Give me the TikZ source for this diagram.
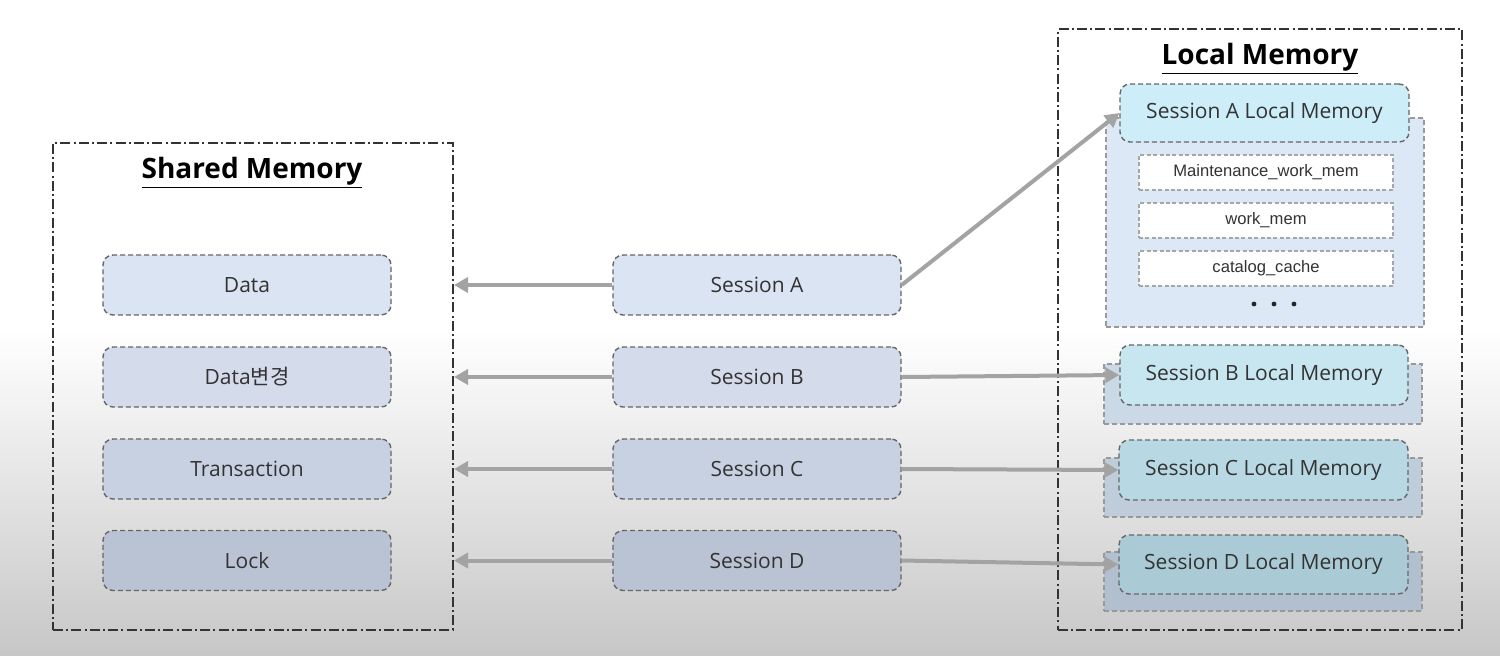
\documentclass[tikz,border=0pt]{standalone}
\usepackage{fontspec}
\setmainfont{Open Sans}
\newfontfamily\krfont{Noto Sans CJK KR}
\newfontfamily\arialfont{Liberation Sans}
\usetikzlibrary{arrows.meta}
\definecolor{txt}{HTML}{333333}
\definecolor{arrgray}{HTML}{A3A3A3}
\tikzset{
  outerbox/.style={draw=black!80, line width=1pt, dash pattern=on 5pt off 1.6pt on 1pt off 1.6pt, inner sep=0pt},
  membox/.style={draw=black!60, line width=0.7pt, dash pattern=on 2.5pt off 1.5pt, rounded corners=5pt, minimum width=144pt, minimum height=30pt, text=txt, font=\fontsize{10.5}{12}\selectfont, inner sep=0pt},
  backbox/.style={draw=black!40, line width=0.7pt, dash pattern=on 2.5pt off 1.5pt, minimum width=159pt, inner sep=0pt},
  itembox/.style={draw=black!35, fill=white, line width=0.6pt, dash pattern=on 2pt off 1.2pt, minimum width=127pt, minimum height=17.5pt, text=txt, font=\arialfont\fontsize{8.3}{10}\selectfont, inner sep=0pt},
  titletext/.style={font=\bfseries\fontsize{14}{16}\selectfont, text=black},
  arr/.style={draw=arrgray, line width=2pt, -{Triangle[length=7pt,width=7.5pt]}},
}
\begin{document}
\begin{tikzpicture}[x=0.5pt,y=-0.5pt]
\useasboundingbox (0,0) rectangle (1500,655);
% background
\fill[white] (0,0) rectangle (1500,330);
\shade[top color=white, bottom color=black!22] (0,330) rectangle (1500,655);

% shared memory
\node[outerbox, minimum width=200pt, minimum height=243.5pt] (shared) at (253,386.5) {};
\node[titletext] (sharedtitle) at (252,173) {\underline{Shared Memory}};
\node[membox, fill={rgb,255:red,219;green,228;blue,243}] (data) at (247,285) {Data};
\node[membox, fill={rgb,255:red,212;green,220;blue,236}] (datach) at (247,377) {Data{\krfont 변경}};
\node[membox, fill={rgb,255:red,199;green,209;blue,226}] (trans) at (247,469) {Transaction};
\node[membox, fill={rgb,255:red,185;green,195;blue,212}] (lock) at (247,560.5) {Lock};

% sessions
\node[membox, fill={rgb,255:red,219;green,228;blue,243}] (sA) at (757,285) {Session A};
\node[membox, fill={rgb,255:red,212;green,220;blue,236}] (sB) at (757,377) {Session B};
\node[membox, fill={rgb,255:red,199;green,209;blue,226}] (sC) at (757,469) {Session C};
\node[membox, fill={rgb,255:red,185;green,195;blue,212}] (sD) at (757,560.5) {Session D};

% local memory
\node[outerbox, minimum width=202pt, minimum height=300.5pt] (local) at (1260,329.5) {};
\node[titletext] (localtitle) at (1260,59) {\underline{Local Memory}};

\node[backbox, fill={rgb,255:red,220;green,232;blue,246}, minimum height=104.5pt] (bA) at (1265,222.5) {};
\node[membox, fill={rgb,255:red,205;green,238;blue,248}, minimum width=144.5pt, minimum height=29pt] (lA) at (1264.5,113) {Session A Local Memory};
\node[itembox] (mwm) at (1266,172.5) {Maintenance\_work\_mem};
\node[itembox] (wm) at (1266,220.5) {work\_mem};
\node[itembox] (cc) at (1266,268.5) {catalog\_cache};
\fill[black!85] (1254,304) circle (1.2pt) (1274,304) circle (1.2pt) (1294,304) circle (1.2pt);

\node[backbox, fill={rgb,255:red,203;green,216;blue,230}, minimum height=30pt] (bB) at (1263,394) {};
\node[membox, fill={rgb,255:red,199;green,230;blue,240}] (lB) at (1264,375) {Session B Local Memory};
\node[backbox, fill={rgb,255:red,191;green,205;blue,219}, minimum height=29.5pt] (bC) at (1263,487.5) {};
\node[membox, fill={rgb,255:red,184;green,217;blue,228}, minimum width=144.5pt] (lC) at (1263.5,470) {Session C Local Memory};
\node[backbox, fill={rgb,255:red,178;green,191;blue,207}, minimum height=29.5pt] (bD) at (1263,581.5) {};
\node[membox, fill={rgb,255:red,170;green,203;blue,214}, minimum width=144.5pt, minimum height=29.5pt] (lD) at (1263.5,564.5) {Session D Local Memory};

% arrows to shared memory
\draw[arr] (sA.west) -- (sA.west -| shared.east);
\draw[arr] (sB.west) -- (sB.west -| shared.east);
\draw[arr] (sC.west) -- (sC.west -| shared.east);
\draw[arr] (sD.west) -- (sD.west -| shared.east);
% arrows to local memory
\draw[arr] (sA.east) -- (lA.west);
\draw[arr] (sB.east) -- (lB.west);
\draw[arr] (sC.east) -- (lC.west);
\draw[arr] (sD.east) -- (lD.west);
\end{tikzpicture}
\end{document}
